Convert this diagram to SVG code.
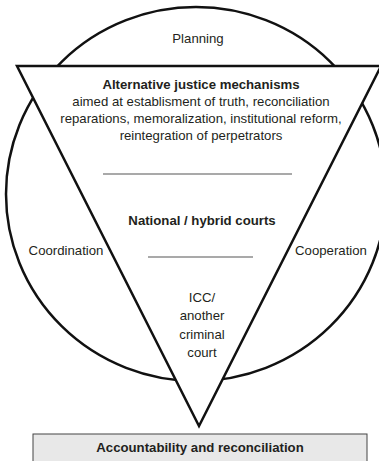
<svg xmlns="http://www.w3.org/2000/svg" width="379" height="461" viewBox="0 0 379 461">
<style>
.t{font-family:"Liberation Sans",Arial,sans-serif;font-size:13.2px;fill:#231f20;text-anchor:middle}
.b{font-weight:bold}
.s{fill:none;stroke:#111;stroke-width:2.5}
.sep{stroke:#555;stroke-width:1.2}
</style>
<rect width="379" height="461" fill="#fff"/>
<g id="circle">
<ellipse class="s" cx="196" cy="194" rx="190" ry="187"/>
</g>
<g id="triangle">
<polygon points="17,66 381,66 199,426" fill="#fff" stroke="#111" stroke-width="2.5" stroke-linejoin="miter"/>
</g>
<g id="planning"><text class="t" x="198" y="43">Planning</text></g>
<g id="coordination"><text class="t" x="66" y="255">Coordination</text></g>
<g id="cooperation"><text class="t" x="331" y="255">Cooperation</text></g>
<g id="alternative">
<text class="t b" x="201" y="89">Alternative justice mechanisms</text>
<text class="t" x="201" y="106">aimed at establisment of truth, reconciliation</text>
<text class="t" x="201" y="123">reparations, memoralization, institutional reform,</text>
<text class="t" x="201" y="140">reintegration of perpetrators</text>
</g>
<g id="connectors">
<line class="sep" x1="103" y1="174" x2="292" y2="174"/>
<line class="sep" x1="148" y1="257" x2="253" y2="257"/>
</g>
<g id="national"><text class="t b" x="202" y="225">National / hybrid courts</text></g>
<g id="icc">
<text class="t" x="202" y="302">ICC/</text>
<text class="t" x="202" y="320">another</text>
<text class="t" x="202" y="339">criminal</text>
<text class="t" x="202" y="357">court</text>
</g>
<g id="outcome">
<rect x="33" y="434" width="334" height="30" fill="#e8e8e8" stroke="#444" stroke-width="1"/>
<text class="t b" x="200" y="452">Accountability and reconciliation</text>
</g>
</svg>
